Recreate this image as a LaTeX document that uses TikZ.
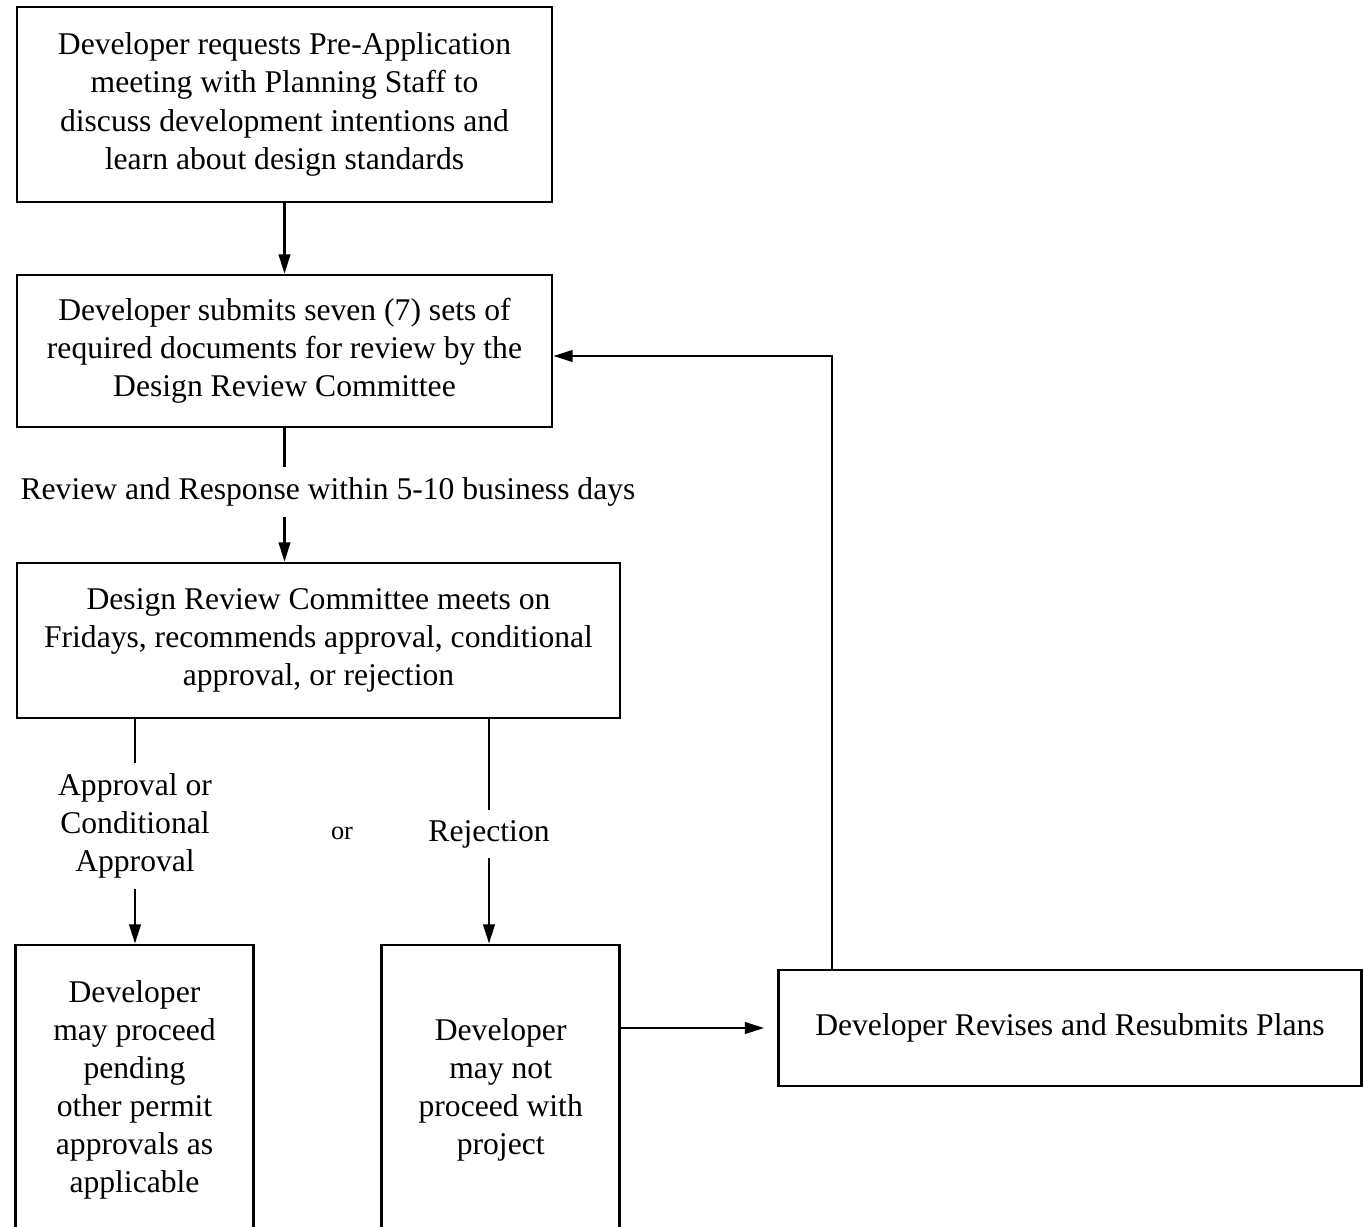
\documentclass[tikz,border=0pt]{standalone}
\usepackage{fontspec}
\setmainfont{Liberation Serif}
\usetikzlibrary{arrows.meta,calc}

\tikzset{
  stage/.style={draw, line width=1.5pt, align=center, inner sep=0pt,
    font=\fontsize{18}{21.7}\selectfont},
  cue/.style={align=center, inner xsep=0pt, inner ysep=0.2cm,
    font=\fontsize{18}{21.7}\selectfont},
  link/.style={line width=1.5pt},
  flow/.style={line width=1.5pt, -{Triangle[length=11pt,width=6.5pt]}}
}

\begin{document}
\begin{tikzpicture}[x=0.02cm,y=-0.02cm]
      \useasboundingbox (0,0) rectangle (1363,1227);
      \clip (0,0) rectangle (1363,1227);

      \node[stage, minimum width=10.7cm, minimum height=3.9cm] (request) at (284.5,104.5)
        {Developer requests Pre-Application\\ meeting with Planning Staff to\\
         discuss development intentions and\\ learn about design standards};
      \node[stage, minimum width=10.7cm, minimum height=3.04cm] (submit) at (284.5,351)
        {Developer submits seven (7) sets of\\ required documents for review by the\\
         Design Review Committee};
      \node[stage, minimum width=12.06cm, minimum height=3.1cm] (meet) at (318.5,640.5)
        {Design Review Committee meets on\\ Fridays, recommends approval, conditional\\
         approval, or rejection};
      \node[stage, minimum width=4.75cm, minimum height=5.8cm] (proceed) at (134.5,1090)
        {Developer\\ may proceed\\ pending\\ other permit\\ approvals as\\ applicable};
      \node[stage, minimum width=4.76cm, minimum height=5.8cm] (stop) at (500.7,1090)
        {Developer\\ may not\\ proceed with\\ project};
      \node[stage, minimum width=11.66cm, minimum height=2.32cm] (revise) at (1070,1028)
        {Developer Revises and Resubmits Plans};

      \node[cue] (review) at (328,492) {Review and Response within 5-10 business days};
      \node[cue] (approve) at (135,826) {Approval or\\ Conditional\\ Approval};
      \node[cue] (reject) at (489,834) {Rejection};
      \node[font=\fontsize{15}{18}\selectfont] (either) at (342,833) {or};

      \coordinate (turn) at (832,356);

      \draw[flow] (request) -- (submit);
      \draw[link] (submit.south) -- (submit.south |- review.north);
      \draw[flow] (submit.south |- review.south) -- (submit.south |- meet.north);
      \draw[link] (approve.north |- meet.south) -- (approve.north);
      \draw[flow] (approve.south) -- (approve.south |- proceed.north);
      \draw[link] (reject.north |- meet.south) -- (reject.north);
      \draw[flow] (reject.south) -- (reject.south |- stop.north);
      \draw[flow, shorten >=0.26cm] (stop.east |- revise.west) -- (revise.west);
      \draw[flow] (turn |- revise.north) -- (turn) -- (submit.east |- turn);
\end{tikzpicture}
\end{document}
